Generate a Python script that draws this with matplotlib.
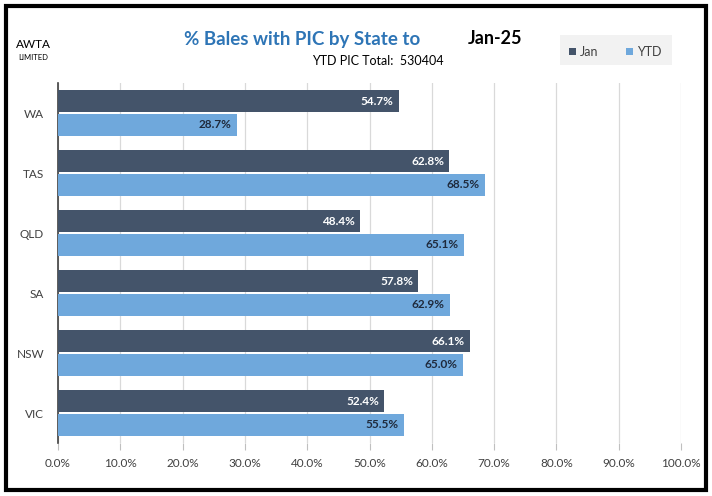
import matplotlib
matplotlib.use("Agg")
import matplotlib.pyplot as plt
from matplotlib.patches import Rectangle
from matplotlib.ticker import FuncFormatter, MultipleLocator

states = ["WA", "TAS", "QLD", "SA", "NSW", "VIC"]
jan = [54.7, 62.8, 48.4, 57.8, 66.1, 52.4]
ytd = [28.7, 68.5, 65.1, 62.9, 65.0, 55.5]
title = "% Bales with PIC by State to"
month = "Jan-25"
subtitle = "YTD PIC Total:  530404"

plt.rcParams['font.family'] = ['Lato', 'DejaVu Sans']

W, H = 712, 496
fig = plt.figure(figsize=(W/100, H/100), dpi=100)
ax = fig.add_axes([58/W, 1-443/H, (681-58)/W, (443-83)/H])

c_jan = "#44546A"
c_ytd = "#6FA8DC"
bh = 0.37
n = len(states)
for i in range(n):
    y = i
    ax.barh(y - bh/2 - 0.01, jan[i], height=bh, color=c_jan, zorder=3)
    ax.barh(y + bh/2 + 0.01, ytd[i], height=bh, color=c_ytd, zorder=3)
    ax.text(jan[i] - 0.8, y - bh/2 - 0.01, f"{jan[i]:.1f}%", ha="right", va="center",
            color="white", fontsize=8.5, fontweight="bold", zorder=4)
    ax.text(ytd[i] - 0.8, y + bh/2 + 0.01, f"{ytd[i]:.1f}%", ha="right", va="center",
            color="#1F2A3C", fontsize=8.5, fontweight="bold", zorder=4)

ax.set_ylim(n - 0.5, -0.5)
ax.set_xlim(0, 100)
ax.set_yticks(range(n))
ax.set_yticklabels(states, fontsize=8.5, color="#404040")
ax.xaxis.set_major_locator(MultipleLocator(10))
ax.xaxis.set_major_formatter(FuncFormatter(lambda v, p: f"{v:.1f}%"))
ax.tick_params(axis="x", labelsize=8.5, labelcolor="#404040", length=5, color="#BFBFBF", pad=6)
ax.tick_params(axis="y", length=0, pad=10)
ax.grid(axis="x", color="#D9D9D9", linewidth=0.9, zorder=0)
for s in ["top", "right", "bottom"]:
    ax.spines[s].set_visible(False)
ax.spines["left"].set_color("#404040")
ax.spines["left"].set_linewidth(1.2)

fig.text(302/W, 1-40/H, title, ha="center", va="center", fontsize=13.5,
         fontweight="bold", color="#2E75B6")
fig.text(495/W, 1-38/H, month, ha="center", va="center", fontsize=13,
         fontweight="bold", color="black")
fig.text(378/W, 1-61/H, subtitle, ha="center", va="center", fontsize=9, color="black")

# legend box
fig.patches.append(Rectangle((560/W, 1-65/H), 112/W, 30/H, transform=fig.transFigure,
                             facecolor="#F2F2F2", edgecolor="none"))
fig.patches.append(Rectangle((569/W, 1-55/H), 7/W, 7/H, transform=fig.transFigure,
                             facecolor=c_jan, edgecolor="none"))
fig.text(580/W, 1-51.5/H, "Jan", ha="left", va="center", fontsize=9, color="#404040")
fig.patches.append(Rectangle((626/W, 1-55/H), 7/W, 7/H, transform=fig.transFigure,
                             facecolor=c_ytd, edgecolor="none"))
fig.text(637/W, 1-51.5/H, "YTD", ha="left", va="center", fontsize=9, color="#404040")

# logo text
fig.text(33/W, 1-45/H, "AWTA", ha="center", va="center", fontsize=8.5, color="black")
fig.text(33/W, 1-57/H, "LIMITED", ha="center", va="center", fontsize=5.5, color="black")

# border
fig.patches.append(Rectangle((6/W, 6/H), (W-12)/W, (H-12)/H, transform=fig.transFigure,
                             facecolor="none", edgecolor="black", linewidth=3))

fig.savefig("out.png", dpi=100)
